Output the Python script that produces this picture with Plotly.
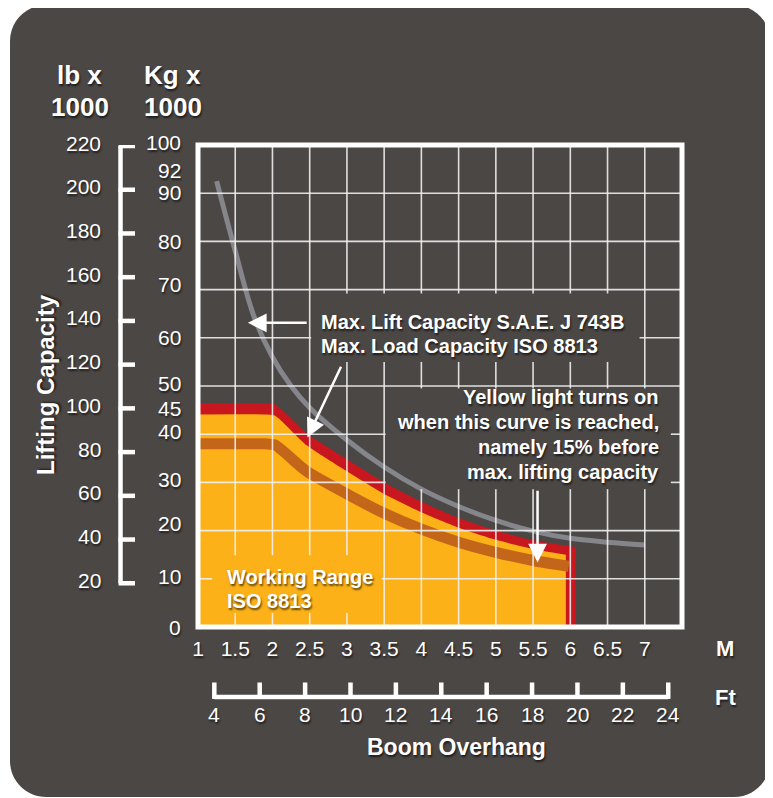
import plotly.graph_objects as go

# ---------------- data ----------------
x_ticks_m = [1, 1.5, 2, 2.5, 3, 3.5, 4, 4.5, 5, 5.5, 6, 6.5, 7]
x_tick_text = ["1", "1.5", "2", "2.5", "3", "3.5", "4", "4.5", "5", "5.5", "6", "6.5", "7"]
ft_ticks = [4, 6, 8, 10, 12, 14, 16, 18, 20, 22, 24]
kg_labels = [100, 92, 90, 80, 70, 60, 50, 45, 40, 30, 20, 10, 0]
lb_ticks = [220, 200, 180, 160, 140, 120, 100, 80, 60, 40, 20]
grid_x = [1.5, 2, 2.5, 3, 3.5, 4, 4.5, 5, 5.5, 6, 6.5, 7]
grid_y = [10, 20, 30, 40, 50, 60, 70, 80, 90]

# max. load capacity ISO 8813 (red outline)
max_load_x = [1.0, 1.9, 2.03, 2.46, 3.0, 3.5, 4.0, 4.5, 5.0, 5.5, 6.07]
max_load_y = [46.4, 46.4, 46.2, 40.2, 34.8, 30.0, 26.0, 22.6, 20.0, 18.0, 16.6]
# working range (yellow)
work_x = [1.0, 1.9, 2.03, 2.46, 3.0, 3.5, 4.0, 4.5, 5.0, 5.5, 5.94]
work_y = [44.1, 44.1, 43.9, 37.7, 32.3, 27.6, 23.8, 20.6, 18.1, 16.2, 15.0]
# yellow light curve (15 % before max.)
warn_x = [1.0, 1.9, 2.03, 2.46, 3.0, 3.5, 4.0, 4.5, 5.0, 5.5, 5.98]
warn_y = [38.0, 38.0, 37.8, 32.3, 27.6, 23.6, 20.3, 17.6, 15.5, 13.8, 12.6]
# max. lift capacity S.A.E. J 743B (gray)
sae_x = [1.25, 1.5, 1.75, 2.0, 2.25, 2.5, 3.0, 3.5, 4.0, 4.5, 5.0, 5.5, 6.0, 6.5, 7.0]
sae_y = [92.5, 78.0, 64.5, 56.0, 50.0, 45.5, 38.8, 33.2, 28.6, 25.0, 22.1, 19.9, 18.4, 17.6, 17.0]

# ---------------- style ----------------
BG = "#4b4745"
RED = "#c8171e"
YEL = "#fcb118"
BROWN = "#c3661a"
GRAY = "#85868b"
WHITE = "#ffffff"
FONT = "Liberation Sans"
SHADOW = "1px 2px 2px rgba(0,0,0,0.6)"

OFF = 8                      # page body margin of the browser
W, H = 773 - OFF, 798 - OFF
PL, PR, PT, PB = 198 - OFF, 682 - OFF, 145 - OFF, 627 - OFF


def px_x(px):
    """page pixel (reference coordinates) -> paper x"""
    return (px - OFF - PL) / (PR - PL)


def px_y(py):
    return (PB - (py - OFF)) / (PB - PT)


X_RANGE = [1, 7.5]
Y_RANGE = [0, 100]

# text boxes that hide the grid (data units)
masks = [((2.52, 6.93), (55.0, 69.2)),
         ((3.52, 7.35), (28.6, 49.5)),
         ((1.19, 3.47), (2.9, 14.9))]


def cut(lo, hi, holes):
    segs = [(lo, hi)]
    for a, b in holes:
        new = []
        for s, e in segs:
            if b <= s or a >= e:
                new.append((s, e))
                continue
            if a > s:
                new.append((s, a))
            if b < e:
                new.append((b, e))
        segs = new
    return segs


gx, gy = [], []
for xv in grid_x:
    holes = [yr for xr, yr in masks if xr[0] < xv < xr[1]]
    for s, e in cut(Y_RANGE[0], Y_RANGE[1], holes):
        gx += [xv, xv, None]
        gy += [s, e, None]
for yv in grid_y:
    holes = [xr for xr, yr in masks if yr[0] < yv < yr[1]]
    for s, e in cut(X_RANGE[0], X_RANGE[1], holes):
        gx += [s, e, None]
        gy += [yv, yv, None]

fig = go.Figure()
fig.add_trace(go.Scatter(x=max_load_x, y=max_load_y, mode="lines", fill="tozeroy",
                         fillcolor=RED, line=dict(color=RED, width=0, shape="spline", smoothing=0.6),
                         hoverinfo="skip", showlegend=False))
fig.add_trace(go.Scatter(x=work_x, y=work_y, mode="lines", fill="tozeroy",
                         fillcolor=YEL, line=dict(color=YEL, width=0, shape="spline", smoothing=0.6),
                         hoverinfo="skip", showlegend=False))
fig.add_trace(go.Scatter(x=warn_x, y=warn_y, mode="lines",
                         line=dict(color=BROWN, width=11, shape="spline", smoothing=0.6),
                         hoverinfo="skip", showlegend=False))
fig.add_trace(go.Scatter(x=sae_x, y=sae_y, mode="lines",
                         line=dict(color=GRAY, width=5, shape="spline", smoothing=1.0),
                         hoverinfo="skip", showlegend=False))
fig.add_trace(go.Scatter(x=gx, y=gy, mode="lines",
                         line=dict(color="rgba(240,240,240,0.9)", width=1.6),
                         hoverinfo="skip", showlegend=False))

shapes = []
# dark rounded panel
L, R, T, B, r = 10, 770, 5, 797, 36
k = 0.5523 * r


def P(x, y):
    return f"{px_x(x):.5f},{px_y(y):.5f}"


panel = (f"M {P(L + r, T)} L {P(R - r, T)} C {P(R - r + k, T)} {P(R, T + r - k)} {P(R, T + r)} "
         f"L {P(R, B - r)} C {P(R, B - r + k)} {P(R - r + k, B)} {P(R - r, B)} "
         f"L {P(L + r, B)} C {P(L + r - k, B)} {P(L, B - r + k)} {P(L, B - r)} "
         f"L {P(L, T + r)} C {P(L, T + r - k)} {P(L + r - k, T)} {P(L + r, T)} Z")
shapes.append(dict(type="path", xref="paper", yref="paper", path=panel,
                   fillcolor=BG, line=dict(width=0), layer="below"))
# plot frame
shapes.append(dict(type="rect", xref="paper", yref="paper", x0=0, x1=1, y0=0, y1=1,
                   line=dict(color=WHITE, width=5), layer="above"))

# lb bracket (left)
LB_PER_KG = 2.20462
bx0, bx1 = px_x(120.5), px_x(135)
shapes.append(dict(type="line", xref="paper", yref="y", x0=bx0, x1=bx0,
                   y0=lb_ticks[0] / LB_PER_KG, y1=lb_ticks[-1] / LB_PER_KG,
                   line=dict(color=WHITE, width=4.5)))
for lb in lb_ticks:
    shapes.append(dict(type="line", xref="paper", yref="y", x0=bx0 - 0.004, x1=bx1,
                       y0=lb / LB_PER_KG, y1=lb / LB_PER_KG, line=dict(color=WHITE, width=4.5)))

# ft bracket (bottom)
M_PER_FT = 0.3048
fy0, fy1 = px_y(697), px_y(682.5)
shapes.append(dict(type="line", xref="x", yref="paper", x0=ft_ticks[0] * M_PER_FT,
                   x1=ft_ticks[-1] * M_PER_FT, y0=fy0, y1=fy0, line=dict(color=WHITE, width=4.5)))
for ft in ft_ticks:
    shapes.append(dict(type="line", xref="x", yref="paper", x0=ft * M_PER_FT, x1=ft * M_PER_FT,
                       y0=fy0 - 0.004, y1=fy1, line=dict(color=WHITE, width=4.5)))

ann = []


def text(t, x, y, size, bold=True, xanchor="center", yanchor="middle", xref="paper", yref="paper",
         textangle=0, yshift=0):
    ann.append(dict(text=t, x=x, y=y, xref=xref, yref=yref, showarrow=False,
                    xanchor=xanchor, yanchor=yanchor, textangle=textangle, yshift=yshift,
                    font=dict(family=FONT, size=size, color=WHITE, weight=700 if bold else 400,
                              shadow=SHADOW)))


# headers
text("lb x", px_x(79), px_y(75), 26)
text("1000", px_x(80), px_y(107), 26)
text("Kg x", px_x(172), px_y(75), 26)
text("1000", px_x(173), px_y(107), 26)
text("Lifting Capacity", px_x(45), px_y(385), 24, textangle=-90)

# kg labels
kg_nudge = {100: 3, 92: 13, 90: 1, 70: 5, 50: 3, 45: 2, 40: 3, 30: 3, 20: 7, 10: 2}
for v in kg_labels:
    text(str(v), px_x(183), v, 21, bold=False, xanchor="right", yref="y", yshift=kg_nudge.get(v, 0))
# lb labels
for lb in lb_ticks:
    text(str(lb), px_x(103), lb / LB_PER_KG, 21, bold=False, xanchor="right", yref="y", yshift=3)

# ft labels
for ft in ft_ticks:
    text(str(ft), ft * M_PER_FT, px_y(714.5), 21, bold=False, xref="x")

text("M", px_x(725), px_y(648), 22)
text("Ft", px_x(725), px_y(697), 22)
text("Boom Overhang", px_x(456), px_y(747), 23)

# inside texts
text("Max. Lift Capacity S.A.E. J 743B", px_x(319), px_y(322), 20, xanchor="left")
text("Max. Load Capacity ISO 8813", px_x(319), px_y(345.5), 20, xanchor="left")
for i, line in enumerate(["Yellow light turns on", "when this curve is reached,",
                          "namely 15% before", "max. lifting capacity"]):
    text(line, px_x(661), px_y(397 + 25 * i), 20, xanchor="right")
text("Working Range", px_x(225), px_y(577), 20, xanchor="left")
text("ISO 8813", px_x(225), px_y(600.5), 20, xanchor="left")

# arrows
arrows = [
    (1.67, 63.1, 2.48, 63.1),
    (2.47, 39.3, 2.93, 54.3),
    (5.56, 13.4, 5.56, 28.6),
]
for hx, hy, tx, ty in arrows:
    ann.append(dict(text="", x=hx, y=hy, ax=tx, ay=ty, xref="x", yref="y", axref="x", ayref="y",
                    showarrow=True, arrowhead=2, arrowsize=1.5, arrowwidth=2.5,
                    arrowcolor=WHITE, standoff=0, startstandoff=0))

fig.update_layout(
    width=W, height=H,
    margin=dict(l=PL, r=W - PR, t=PT, b=H - PB, pad=0),
    paper_bgcolor="white", plot_bgcolor=BG,
    xaxis=dict(range=X_RANGE, tickmode="array", tickvals=x_ticks_m, ticktext=x_tick_text,
               showgrid=False, zeroline=False, showline=False, ticks="",
               ticklabelstandoff=7,
               tickfont=dict(family=FONT, size=21, color=WHITE, shadow=SHADOW),
               fixedrange=True),
    yaxis=dict(range=Y_RANGE, showgrid=False, zeroline=False, showline=False,
               showticklabels=False, ticks="", fixedrange=True),
    shapes=shapes, annotations=ann, showlegend=False,
)

fig.write_html("out.html")
